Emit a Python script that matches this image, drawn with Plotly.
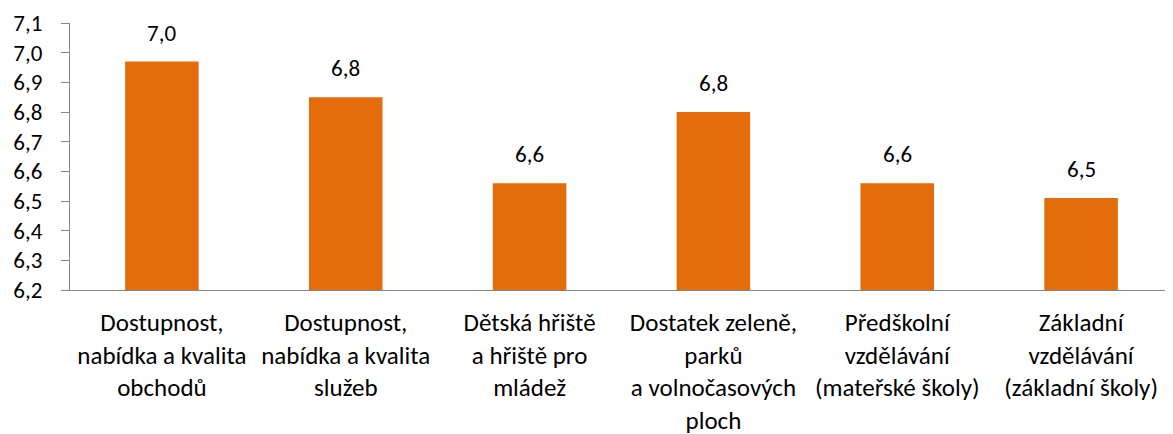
import plotly.graph_objects as go

categories = [
    "Dostupnost,<br>nabídka a kvalita<br>obchodů",
    "Dostupnost,<br>nabídka a kvalita<br>služeb",
    "Dětská hřiště<br>a hřiště pro<br>mládež",
    "Dostatek zeleně,<br>parků<br>a volnočasových<br>ploch",
    "Předškolní<br>vzdělávání<br>(mateřské školy)",
    "Základní<br>vzdělávání<br>(základní školy)",
]
values = [6.97, 6.85, 6.56, 6.80, 6.56, 6.51]
labels = ["7,0", "6,8", "6,6", "6,8", "6,6", "6,5"]
y_ticks = [6.2, 6.3, 6.4, 6.5, 6.6, 6.7, 6.8, 6.9, 7.0, 7.1]

FONT = "Calibri, Carlito, Lato, sans-serif"
FS = 23
FSX = 25

fig = go.Figure()
fig.add_trace(go.Bar(
    x=categories, y=values,
    marker=dict(color="#E46C0A", line=dict(width=0)),
    width=0.4,
    hoverinfo="skip",
))

for c, v, t in zip(categories, values, labels):
    fig.add_annotation(x=c, y=v, text=t, showarrow=False,
                       yanchor="middle", yshift=29,
                       font=dict(family=FONT, size=FS, color="#000000"))

# page body has an 8px default margin; figure is sized to fill the rest
fig.update_layout(
    width=1165, height=426,
    margin=dict(l=62, r=0, t=15, b=144, autoexpand=False),
    paper_bgcolor="white", plot_bgcolor="white",
    separators=", ",
    showlegend=False,
    font=dict(family=FONT, size=FS, color="#000000"),
    bargap=0.6,
)
fig.update_yaxes(
    range=[6.2, 7.1], tickvals=y_ticks, tickformat=".1f",
    showgrid=False, zeroline=False, automargin=False,
    showline=True, linecolor="#868686", linewidth=1,
    ticks="outside", ticklen=8, tickcolor="#868686",
    ticklabelstandoff=14,
    tickfont=dict(family=FONT, size=FS, color="#000000"),
)
fig.update_xaxes(
    showgrid=False, showline=True, linecolor="#868686", linewidth=1,
    automargin=False,
    ticks="outside", ticklen=10, tickcolor="rgba(0,0,0,0)",
    tickfont=dict(family=FONT, size=FSX, color="#000000"),
)

fig.write_html("out.html")
